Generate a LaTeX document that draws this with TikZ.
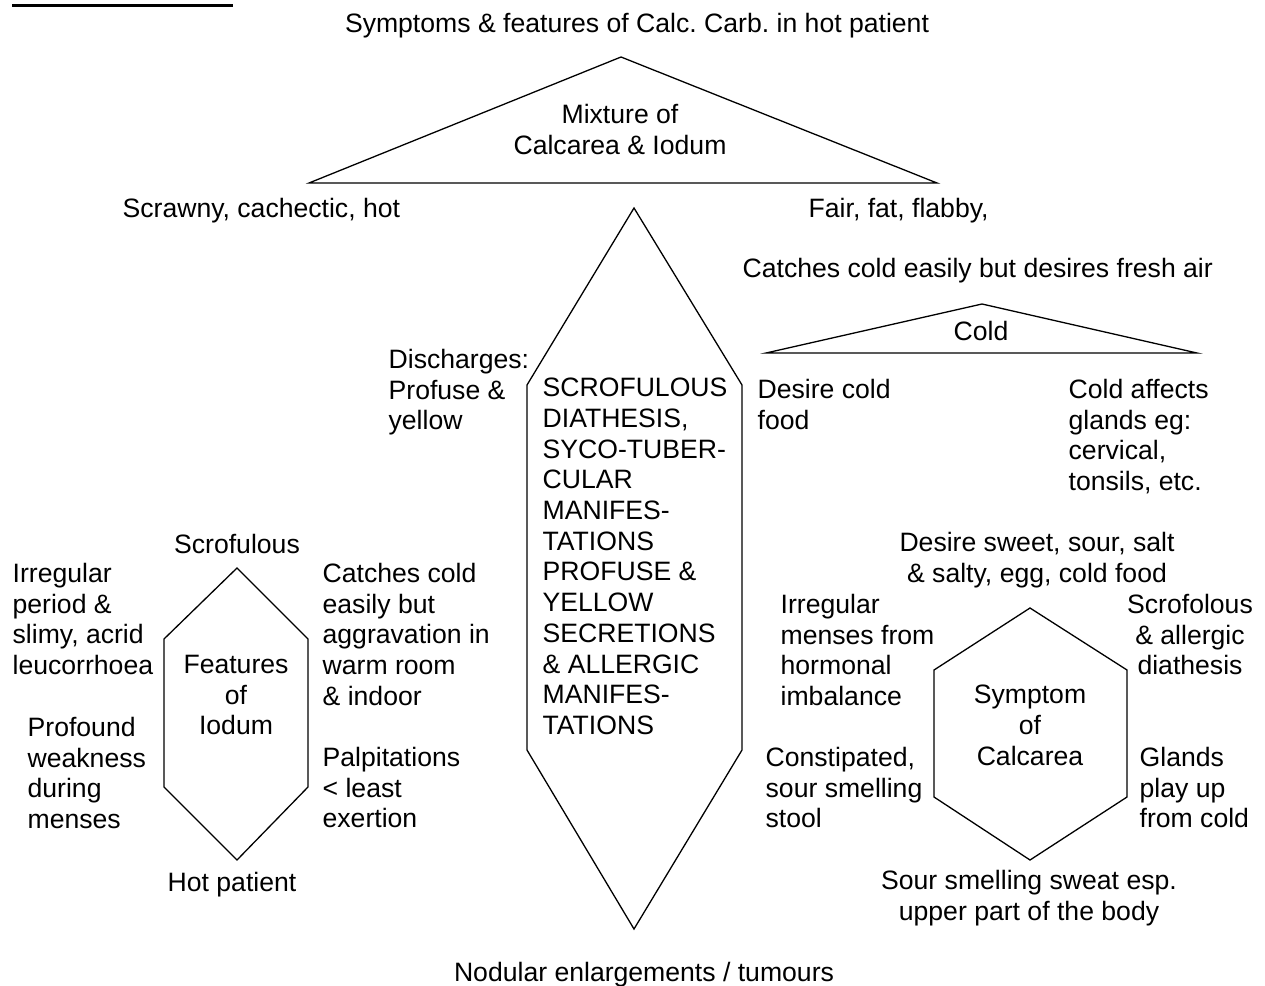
\documentclass[tikz,border=0pt]{standalone}
\usepackage{fontspec}
\setmainfont{Liberation Sans}
\usetikzlibrary{positioning}
\frenchspacing

\begin{document}
\begin{tikzpicture}[x=1pt, y=-1pt, line width=1.3pt, line join=miter,
    every node/.style={inner sep=0pt, font=\fontsize{26.6}{30.7}\selectfont},
    lbl/.style={align=left, anchor=north west, execute at begin node={\rule{0pt}{21pt}}},
    clbl/.style={align=center, anchor=north, execute at begin node={\rule{0pt}{21pt}}}]
    \useasboundingbox (0,0) rectangle (1265,985);

    % Heading (cut off at the top)
    \draw[line width=3pt] (12,5) -- (233,5);
    \node[clbl] (title) at (637,10.5) {Symptoms \& features of Calc. Carb. in hot patient};

    % Shapes
    \draw (309,183) -- (621,57) -- (937,183) -- cycle;
    \draw (634,208) -- (742,385) -- (742,750) -- (634,929) -- (527,750) -- (527,385) -- cycle;
    \draw (766,353) -- (982,304) -- (1197,353) -- cycle;
    \draw (237,568) -- (308,639) -- (308,787) -- (237,860) -- (164,787) -- (164,639) -- cycle;
    \draw (1030,608) -- (1127,670) -- (1127,797) -- (1030,860) -- (934,797) -- (934,670) -- cycle;

    % Texts in the shapes
    \node[clbl] (mixture) at (620,103.5) {Mixture of\\Calcarea \& Iodum};
    \node[lbl] (diathesis) at (542,377.5) {SCROFULOUS\\DIATHESIS,\\SYCO-TUBER-\\CULAR\\MANIFES-\\TATIONS\\PROFUSE \&\\YELLOW\\SECRETIONS\\\& ALLERGIC\\MANIFES-\\TATIONS};
    \node[clbl] (cold) at (981,318.5) {Cold};
    \node[clbl] (iodum) at (236,654.5) {Features\\of\\Iodum};
    \node[clbl] (calcarea) at (1030,684.5) {Symptom\\of\\Calcarea};

    % Top
    \node[lbl] (scrawny) at (122,195.5) {Scrawny, cachectic, hot};
    \node[lbl] (fair) at (808,195.5) {Fair, fat, flabby,};
    \node[lbl] (freshair) at (742,255.5) {Catches cold easily but desires fresh air};

    % Middle
    \node[lbl] (discharges) at (388,348.5) {Discharges:\\Profuse \&\\yellow};
    \node[lbl] (coldfood) at (757,378.5) {Desire cold\\food};
    \node[lbl] (glands) at (1068,378.5) {Cold affects\\glands eg:\\cervical,\\tonsils, etc.};

    % Iodum
    \node[clbl] (scrofulous) at (237,531.5) {Scrofulous};
    \node[lbl] (period) at (12,562.5) {Irregular\\period \&\\slimy, acrid\\leucorrhoea};
    \node[lbl] (weakness) at (27,716.5) {Profound\\weakness\\during\\menses};
    \node[lbl] (warmroom) at (322,562.5) {Catches cold\\easily but\\aggravation in\\warm room\\\& indoor};
    \node[lbl] (palpitations) at (322,746.5) {Palpitations\\< least\\exertion};
    \node[clbl] (hotpatient) at (232,869.5) {Hot patient};

    % Calcarea
    \node[clbl] (desire) at (1037,531.5) {Desire sweet, sour, salt\\\& salty, egg, cold food};
    \node[lbl] (menses) at (780,593.5) {Irregular\\menses from\\hormonal\\imbalance};
    \node[clbl] (allergic) at (1190,593.5) {Scrofolous\\\& allergic\\diathesis};
    \node[lbl] (stool) at (765,746.5) {Constipated,\\sour smelling\\stool};
    \node[lbl] (playup) at (1139,746.5) {Glands\\play up\\from cold};
    \node[clbl] (sweat) at (1029,869.5) {Sour smelling sweat esp.\\upper part of the body};

    % Bottom
    \node[clbl] (nodular) at (644,959.5) {Nodular enlargements / tumours};
\end{tikzpicture}
\end{document}
